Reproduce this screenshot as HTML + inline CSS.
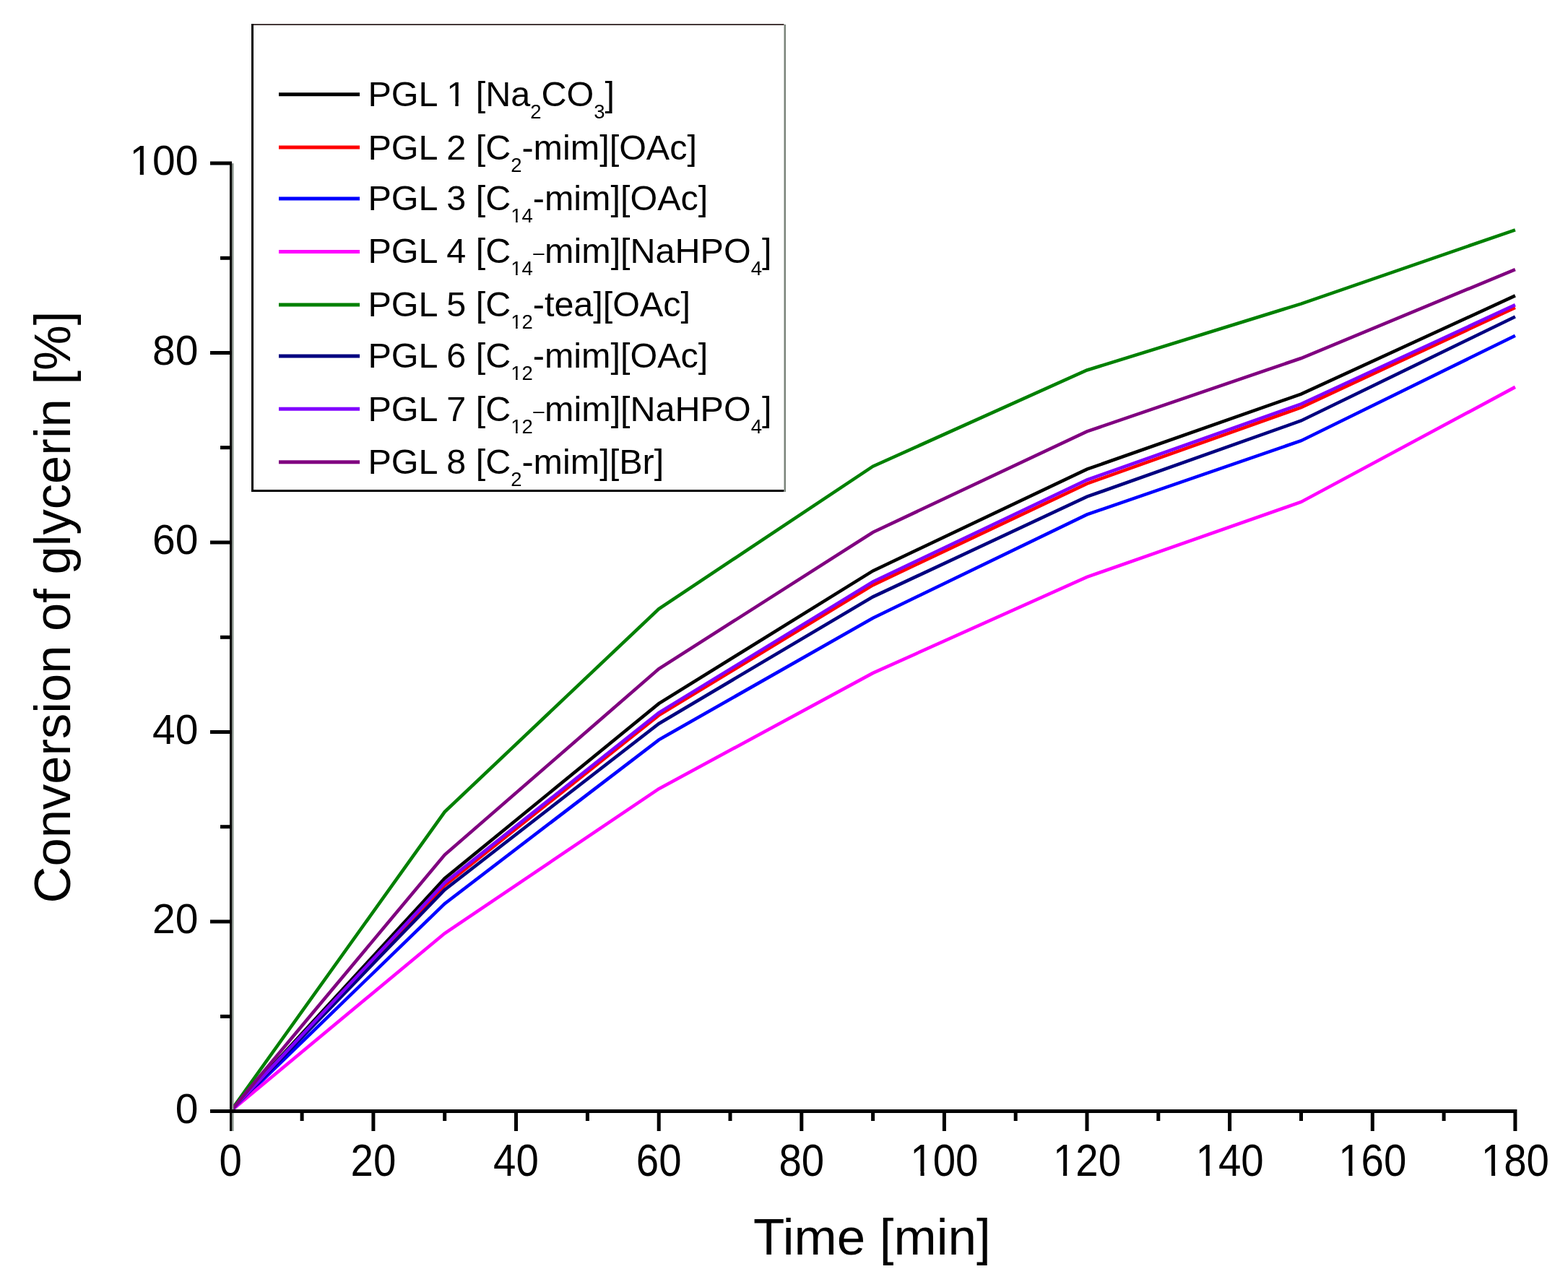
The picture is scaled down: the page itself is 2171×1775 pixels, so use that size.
<!DOCTYPE html>
<html><head><meta charset="utf-8"><title>Conversion of glycerin</title>
<style>
html,body{margin:0;padding:0;background:#fff;}
body{width:2171px;height:1775px;overflow:hidden;}
svg{display:block;}
text{font-family:"Liberation Sans",Arial,sans-serif;fill:#000;}
.yl{font-size:57px;}
.xl{font-size:57px;}
.lg{font-size:48.5px;}
.sb{font-size:27.5px;}
.tt{font-size:71px;}
.yt{font-size:70.6px;}
</style></head><body>
<svg width="2171" height="1775" viewBox="0 0 2171 1775">
<rect x="0" y="0" width="2171" height="1775" fill="#fff"/>
<g fill="none" stroke-width="4.6" stroke-linejoin="miter" stroke-linecap="butt">
<polyline stroke="#000000" points="319.3,1538.5 615.7,1216.2 912.2,974.1 1208.6,790.4 1505.0,649.7 1801.5,545.6 2097.9,409.4"/>
<polyline stroke="#ff0000" points="319.3,1538.5 615.7,1225.9 912.2,990.4 1208.6,810.1 1505.0,669.6 1801.5,564.1 2097.9,425.8"/>
<polyline stroke="#0000ff" points="319.3,1538.5 615.7,1251.2 912.2,1024.3 1208.6,855.7 1505.0,712.4 1801.5,610.2 2097.9,464.7"/>
<polyline stroke="#ff00ff" points="319.3,1538.5 615.7,1292.3 912.2,1092.2 1208.6,931.9 1505.0,798.9 1801.5,695.0 2097.9,535.9"/>
<polyline stroke="#008000" points="319.3,1538.5 615.7,1124.1 912.2,843.0 1208.6,645.7 1505.0,512.5 1801.5,420.6 2097.9,318.3"/>
<polyline stroke="#000080" points="319.3,1538.5 615.7,1231.9 912.2,1001.9 1208.6,826.3 1505.0,687.7 1801.5,582.5 2097.9,438.5"/>
<polyline stroke="#8000ff" points="319.3,1538.5 615.7,1222.2 912.2,986.9 1208.6,805.5 1505.0,664.5 1801.5,559.4 2097.9,422.1"/>
<polyline stroke="#800080" points="319.3,1538.5 615.7,1183.5 912.2,926.1 1208.6,737.0 1505.0,597.4 1801.5,496.0 2097.9,373.1"/>
</g>
<rect x="318" y="223.5" width="3" height="1317.5" fill="#000"/>
<rect x="321" y="226.2" width="2.5" height="1310" fill="#87918a"/>
<rect x="318" y="1536" width="1782.4" height="5" fill="#000"/>
<rect x="318" y="1541" width="3" height="25" fill="#000"/>
<rect x="321" y="1541" width="2.5" height="25" fill="#87918a"/>
<rect x="415.6" y="1541" width="5" height="11" fill="#000"/>
<rect x="514.4" y="1541" width="5" height="25" fill="#000"/>
<rect x="613.2" y="1541" width="5" height="11" fill="#000"/>
<rect x="712.0" y="1541" width="5" height="25" fill="#000"/>
<rect x="810.9" y="1541" width="5" height="11" fill="#000"/>
<rect x="909.7" y="1541" width="5" height="25" fill="#000"/>
<rect x="1008.5" y="1541" width="5" height="11" fill="#000"/>
<rect x="1107.3" y="1541" width="5" height="25" fill="#000"/>
<rect x="1206.1" y="1541" width="5" height="11" fill="#000"/>
<rect x="1304.9" y="1541" width="5" height="25" fill="#000"/>
<rect x="1403.7" y="1541" width="5" height="11" fill="#000"/>
<rect x="1502.5" y="1541" width="5" height="25" fill="#000"/>
<rect x="1601.3" y="1541" width="5" height="11" fill="#000"/>
<rect x="1700.1" y="1541" width="5" height="25" fill="#000"/>
<rect x="1799.0" y="1541" width="5" height="11" fill="#000"/>
<rect x="1897.8" y="1541" width="5" height="25" fill="#000"/>
<rect x="1996.6" y="1541" width="5" height="11" fill="#000"/>
<rect x="2095.4" y="1541" width="5" height="25" fill="#000"/>
<rect x="291" y="1536.0" width="27" height="5" fill="#000"/>
<rect x="305" y="1404.8" width="13" height="5" fill="#000"/>
<rect x="291" y="1273.5" width="27" height="5" fill="#000"/>
<rect x="305" y="1142.2" width="13" height="5" fill="#000"/>
<rect x="291" y="1011.0" width="27" height="5" fill="#000"/>
<rect x="305" y="879.8" width="13" height="5" fill="#000"/>
<rect x="291" y="748.5" width="27" height="5" fill="#000"/>
<rect x="305" y="617.2" width="13" height="5" fill="#000"/>
<rect x="291" y="486.0" width="27" height="5" fill="#000"/>
<rect x="305" y="354.8" width="13" height="5" fill="#000"/>
<rect x="291" y="223.5" width="27" height="5" fill="#000"/>
<text class="yl" x="274.5" y="1554.8" text-anchor="end">0</text>
<text class="yl" x="274.5" y="1292.3" text-anchor="end">20</text>
<text class="yl" x="274.5" y="1029.8" text-anchor="end">40</text>
<text class="yl" x="274.5" y="767.3" text-anchor="end">60</text>
<text class="yl" x="274.5" y="504.8" text-anchor="end">80</text>
<text class="yl" x="274.5" y="242.3" text-anchor="end">100</text>
<text class="xl" text-anchor="middle" transform="translate(319.3 1628.2) scale(0.99 1.105)">0</text>
<text class="xl" text-anchor="middle" transform="translate(516.9 1628.2) scale(0.99 1.105)">20</text>
<text class="xl" text-anchor="middle" transform="translate(714.5 1628.2) scale(0.99 1.105)">40</text>
<text class="xl" text-anchor="middle" transform="translate(912.2 1628.2) scale(0.99 1.105)">60</text>
<text class="xl" text-anchor="middle" transform="translate(1109.8 1628.2) scale(0.99 1.105)">80</text>
<text class="xl" text-anchor="middle" transform="translate(1307.4 1628.2) scale(0.99 1.105)">100</text>
<text class="xl" text-anchor="middle" transform="translate(1505.0 1628.2) scale(0.99 1.105)">120</text>
<text class="xl" text-anchor="middle" transform="translate(1702.6 1628.2) scale(0.99 1.105)">140</text>
<text class="xl" text-anchor="middle" transform="translate(1900.3 1628.2) scale(0.99 1.105)">160</text>
<text class="xl" text-anchor="middle" transform="translate(2097.9 1628.2) scale(0.99 1.105)">180</text>
<text class="tt" x="1043" y="1736.7">Time [min]</text>
<text class="yt" transform="translate(97 1250.6) rotate(-90)">Conversion of glycerin [%]</text>
<rect x="348" y="33" width="737.5" height="2" fill="#453838"/>
<rect x="348" y="678" width="737.5" height="3" fill="#000"/>
<rect x="348" y="33" width="3" height="648" fill="#000"/>
<rect x="1085.5" y="34" width="2.5" height="647" fill="#7a847a"/>
<rect x="386" y="128.2" width="112" height="5" fill="#000000"/>
<text class="lg" x="509.5" y="146.7">PGL 1 [Na<tspan class="sb" dy="17">2</tspan><tspan dy="-17">CO</tspan><tspan class="sb" dy="17">3</tspan><tspan dy="-17">]</tspan></text>
<rect x="386" y="201.5" width="112" height="5" fill="#ff0000"/>
<text class="lg" x="509.5" y="220.5">PGL 2 [C<tspan class="sb" dy="17">2</tspan><tspan dy="-17">-mim][OAc]</tspan></text>
<rect x="386" y="272.5" width="112" height="5" fill="#0000ff"/>
<text class="lg" x="509.5" y="291.0">PGL 3 [C<tspan class="sb" dy="17">14</tspan><tspan dy="-17">-mim][OAc]</tspan></text>
<rect x="386" y="346.0" width="112" height="5" fill="#ff00ff"/>
<text class="lg" x="509.5" y="364.2">PGL 4 [C<tspan class="sb" dy="17">14</tspan><tspan class="sb" dy="-22" dx="0.5">–</tspan><tspan dy="5" dx="0.5">mim][NaHPO</tspan><tspan class="sb" dy="17">4</tspan><tspan dy="-17">]</tspan></text>
<rect x="386" y="419.5" width="112" height="5" fill="#008000"/>
<text class="lg" x="509.5" y="438.0">PGL 5 [C<tspan class="sb" dy="17">12</tspan><tspan dy="-17">-tea][OAc]</tspan></text>
<rect x="386" y="490.5" width="112" height="5" fill="#000080"/>
<text class="lg" x="509.5" y="509.4">PGL 6 [C<tspan class="sb" dy="17">12</tspan><tspan dy="-17">-mim][OAc]</tspan></text>
<rect x="386" y="563.7" width="112" height="5" fill="#8000ff"/>
<text class="lg" x="509.5" y="582.6">PGL 7 [C<tspan class="sb" dy="17">12</tspan><tspan class="sb" dy="-22" dx="0.5">–</tspan><tspan dy="5" dx="0.5">mim][NaHPO</tspan><tspan class="sb" dy="17">4</tspan><tspan dy="-17">]</tspan></text>
<rect x="386" y="637.3" width="112" height="5" fill="#800080"/>
<text class="lg" x="509.5" y="655.6">PGL 8 [C<tspan class="sb" dy="17">2</tspan><tspan dy="-17">-mim][Br]</tspan></text>
<g fill="#fff"><rect x="182.96" y="236.72" width="10.79" height="6.28"/><rect x="198.91" y="236.72" width="10.35" height="6.28"/><g transform="translate(1307.4 1628.2) scale(0.99 1.105)"><rect x="-43.99" y="-5.57" width="10.77" height="6.27"/><rect x="-28.07" y="-5.57" width="10.33" height="6.27"/></g><g transform="translate(1505.0 1628.2) scale(0.99 1.105)"><rect x="-43.99" y="-5.57" width="10.77" height="6.27"/><rect x="-28.07" y="-5.57" width="10.33" height="6.27"/></g><g transform="translate(1702.6 1628.2) scale(0.99 1.105)"><rect x="-43.99" y="-5.57" width="10.77" height="6.27"/><rect x="-28.07" y="-5.57" width="10.33" height="6.27"/></g><g transform="translate(1900.3 1628.2) scale(0.99 1.105)"><rect x="-43.99" y="-5.57" width="10.77" height="6.27"/><rect x="-28.07" y="-5.57" width="10.33" height="6.27"/></g><g transform="translate(2097.9 1628.2) scale(0.99 1.105)"><rect x="-43.99" y="-5.57" width="10.77" height="6.27"/><rect x="-28.07" y="-5.57" width="10.33" height="6.27"/></g><rect x="621.10" y="141.79" width="9.22" height="5.61"/><rect x="634.69" y="141.79" width="8.85" height="5.61"/><rect x="708.49" y="304.63" width="5.61" height="4.07"/><rect x="716.65" y="304.63" width="5.40" height="4.07"/><rect x="708.49" y="377.83" width="5.61" height="4.07"/><rect x="716.65" y="377.83" width="5.40" height="4.07"/><rect x="708.49" y="451.63" width="5.61" height="4.07"/><rect x="716.65" y="451.63" width="5.40" height="4.07"/><rect x="708.49" y="523.03" width="5.61" height="4.07"/><rect x="716.65" y="523.03" width="5.40" height="4.07"/><rect x="708.49" y="596.23" width="5.61" height="4.07"/><rect x="716.65" y="596.23" width="5.40" height="4.07"/></g>
</svg>
</body></html>
